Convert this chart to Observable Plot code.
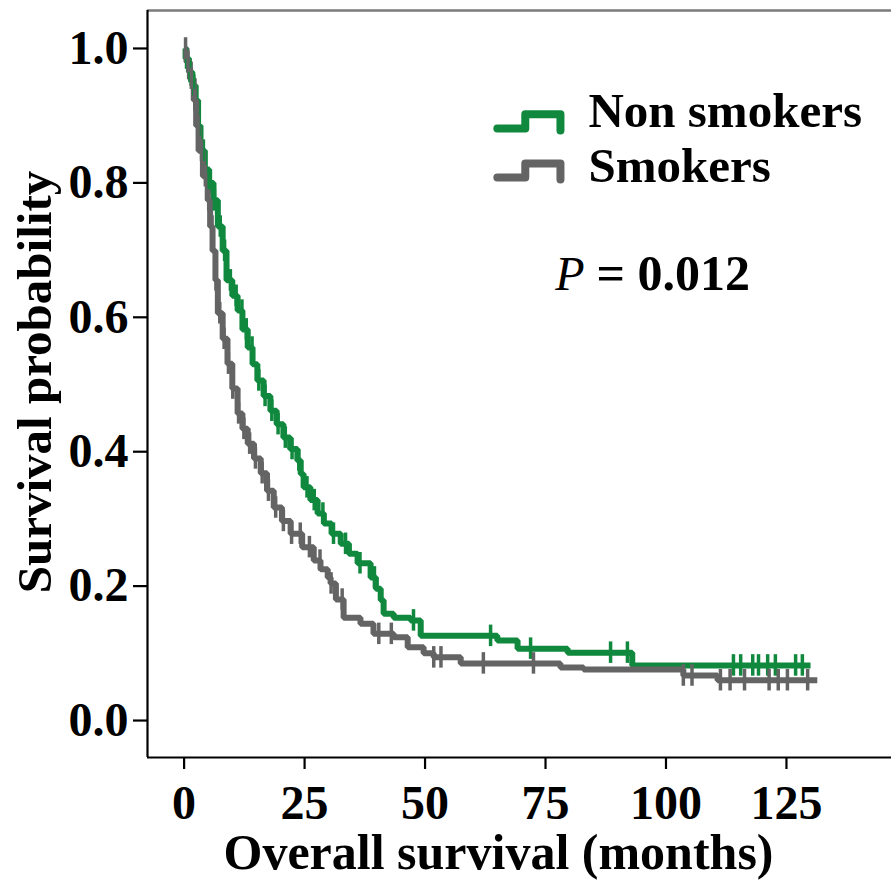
<!DOCTYPE html>
<html><head><meta charset="utf-8">
<script src="https://cdn.jsdelivr.net/npm/d3@7"></script>
<script src="https://cdn.jsdelivr.net/npm/@observablehq/plot@0.6"></script>
<style>body{margin:0;background:#fff}</style>
</head><body><div id="chart"></div>
<script>
// ---- data ----
const seriesNames = ["Non smokers", "Smokers"];
const seriesColors = ["#10893e", "#646464"];

const nonTimes = [0,0.3,1.0,1.7,2.4,2.9,3.4,4.3,5.2,6.1,7.0,8.0,8.8,10.0,11.1,12.1,13.2,14.2,15.2,16.5,17.9,19.2,20.6,22.0,23.5,24.2,24.8,26.2,27.7,29.0,30.6,32.5,34.2,36.0,38.7,39.8,40.8,41.4,43.5,47.0,49.1,65.0,69.2,79.6,93.0,130.0];
const nonSurv  = [1.0,0.985,0.965,0.945,0.923,0.885,0.848,0.82,0.80,0.774,0.735,0.699,0.655,0.632,0.610,0.582,0.555,0.530,0.506,0.483,0.461,0.441,0.421,0.404,0.387,0.367,0.347,0.328,0.308,0.293,0.278,0.263,0.248,0.234,0.213,0.196,0.179,0.159,0.153,0.149,0.126,0.119,0.107,0.101,0.082,0.082];
const nonCensor = [0.5,1.2,2.0,3.1,4.0,5.2,6.3,7.5,8.4,9.6,10.8,12.0,12.9,14.1,15.5,16.8,18.2,19.5,21.0,22.4,23.8,25.5,27.0,28.8,31.0,33.5,36.5,39.5,47.6,63.6,71.9,88.5,92.0,114.0,115.5,118.0,119.2,121.1,122.7,126.9,128.3];

const smkTimes = [0,0.5,1.2,2.0,2.5,3.0,3.9,4.9,5.4,5.9,6.5,7.0,8.0,9.0,10.0,11.1,12.1,13.2,14.5,15.9,17.2,18.6,20.3,22.1,24.5,26.9,28.3,29.8,30.4,31.5,33.1,36.6,39.3,43.5,46.4,49.7,51.8,57.4,78.1,82.9,103.6,110.7,131.4];
const smkSurv  = [1.0,0.98,0.955,0.923,0.885,0.848,0.81,0.774,0.735,0.699,0.655,0.606,0.568,0.531,0.494,0.457,0.434,0.412,0.390,0.368,0.342,0.317,0.297,0.278,0.258,0.238,0.225,0.213,0.204,0.180,0.153,0.144,0.129,0.124,0.109,0.100,0.094,0.085,0.079,0.076,0.067,0.060,0.060];
const smkCensor = [0.3,0.8,1.5,2.2,2.9,3.6,4.4,5.1,5.8,6.6,7.4,8.3,9.2,10.1,11.3,12.4,13.6,14.8,16.2,17.5,19.0,20.6,22.3,24.1,26.0,28.2,30.5,32.8,40.4,43.0,51.8,53.3,62.1,72.5,103.6,105.4,111.3,113.3,116.3,121.4,123.3,125.2,129.4];

const xTicks = [0, 25, 50, 75, 100, 125];
const yTicks = [0, 0.2, 0.4, 0.6, 0.8, 1.0];
const xLabel = "Overall survival (months)";
const yLabel = "Survival probability";
const pLabelItalic = "P";
const pLabelValue = "= 0.012";

// ---- layout ----
const xDomain = [-7.6, 146.8];
const yDomain = [-0.055, 1.0565];
const font = "'Liberation Serif', 'Times New Roman', serif";

function curve(name, times, surv) {
  return times.map((t, i) => ({series: name, t, s: surv[i]}));
}
function censorPts(name, times, surv, cens) {
  return cens.map(c => {
    let s = surv[0];
    for (let i = 0; i < times.length; i++) if (times[i] <= c) s = surv[i];
    return {series: name, t: c, s};
  });
}
const curves = [
  ...curve(seriesNames[0], nonTimes, nonSurv),
  ...curve(seriesNames[1], smkTimes, smkSurv)
];
const censors = [
  ...censorPts(seriesNames[0], nonTimes, nonSurv, nonCensor),
  ...censorPts(seriesNames[1], smkTimes, smkSurv, smkCensor)
];

// legend (positions in data space)
const legendT0 = 65.0, legendTextT = 83.9;
const legendIconBase = [0.881, 0.808];
const legendTextBase = [0.8825, 0.8006];
const iconShape = [[0,0],[5.8,0],[5.8,0.021],[13.1,0.021],[13.1,-0.003]];
const legendIcons = seriesNames.flatMap((name, k) =>
  iconShape.map(([dt, ds]) => ({series: name, t: legendT0 + dt, s: legendIconBase[k] + ds})));
const legendTexts = seriesNames.map((name, k) => ({label: name, t: legendTextT, s: legendTextBase[k]}));

const colorScale = {domain: seriesNames, range: seriesColors};

const chart = Plot.plot({
  width: 891,
  height: 880,
  marginLeft: 147,
  marginRight: 0,
  marginTop: 10,
  marginBottom: 123,
  style: {fontFamily: font, fontWeight: "bold", fontSize: "48px", background: "#fff", color: "#000"},
  x: {domain: xDomain},
  y: {domain: yDomain},
  color: colorScale,
  marks: [
    Plot.ruleY([yDomain[1]], {stroke: "#7a7a7a", strokeWidth: 2.5}),
    Plot.ruleY([yDomain[0]], {stroke: "#000", strokeWidth: 2.2}),
    Plot.ruleX([xDomain[0]], {stroke: "#000", strokeWidth: 2.2}),
    Plot.axisX({ticks: xTicks, tickSize: 12, tickPadding: 15, strokeWidth: 2.2, label: null, fontSize: 48, fontWeight: "bold"}),
    Plot.axisY({ticks: yTicks, tickSize: 14, tickPadding: 5, strokeWidth: 2.2, tickFormat: d3.format(".1f"), label: null, fontSize: 48, fontWeight: "bold"}),
    Plot.line(curves, {x: "t", y: "s", z: "series", stroke: "series", curve: "step-after", strokeWidth: 6, strokeLinejoin: "miter", strokeLinecap: "butt"}),
    Plot.ruleX(censors, {x: "t", y1: d => d.s - 0.016, y2: d => d.s + 0.016, stroke: "series", strokeWidth: 3.5}),
    Plot.line(legendIcons, {x: "t", y: "s", z: "series", stroke: "series", strokeWidth: 8, strokeLinejoin: "round", strokeLinecap: "round"}),
    Plot.text(legendTexts, {x: "t", y: "s", text: "label", textAnchor: "start", lineAnchor: "bottom", fontSize: 49, fontWeight: "bold", fill: "#000"}),
    Plot.text([pLabelItalic], {x: 77.0, y: 0.640, text: d => d, textAnchor: "start", lineAnchor: "bottom", fontSize: 48, fontWeight: "normal", fontStyle: "italic", fill: "#000"}),
    Plot.text([pLabelValue], {x: 85.6, y: 0.640, text: d => d, textAnchor: "start", lineAnchor: "bottom", fontSize: 50, fontWeight: "bold", fill: "#000"}),
    Plot.text([xLabel], {frameAnchor: "bottom", dx: -21, dy: 95, text: d => d, textAnchor: "middle", lineAnchor: "middle", fontSize: 50, fontWeight: "bold", fill: "#000"}),
    Plot.text([yLabel], {frameAnchor: "left", dx: -112, dy: -2, rotate: -90, text: d => d, textAnchor: "middle", lineAnchor: "middle", fontSize: 49, fontWeight: "bold", fill: "#000"})
  ]
});
document.getElementById("chart").appendChild(chart);
</script>
</body></html>
